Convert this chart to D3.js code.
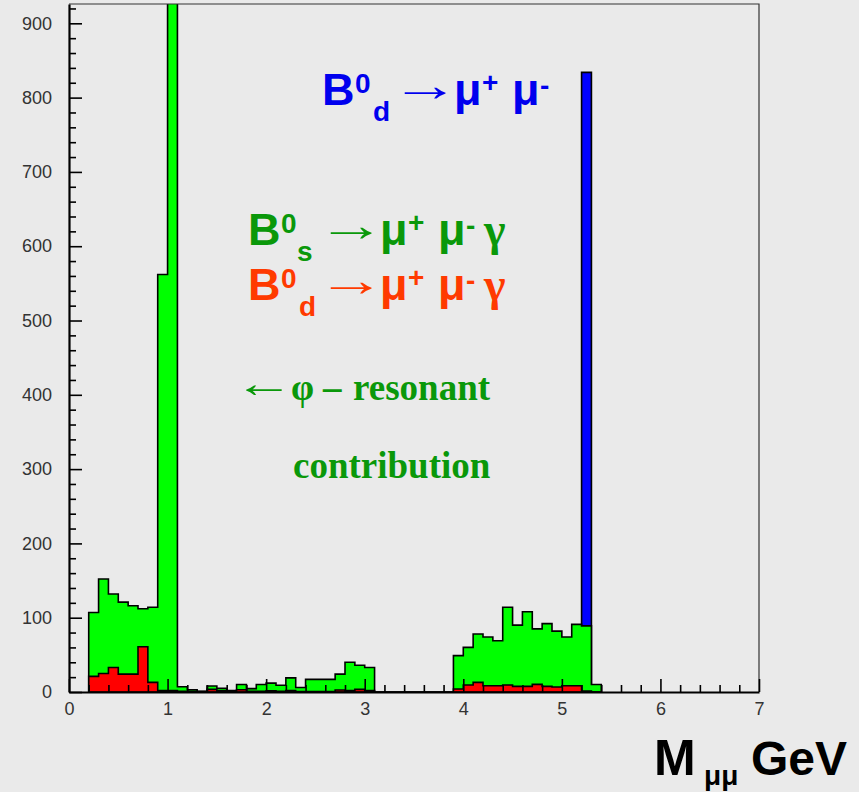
<!DOCTYPE html>
<html><head><meta charset="utf-8">
<script src="https://cdn.jsdelivr.net/npm/d3@7"></script>
<style>html,body{margin:0;padding:0;background:#eaeaea;} svg{display:block}</style>
</head><body>
<svg id="c" width="859" height="792"></svg>
<script>
// ---- data ----
const binLow = [0.2,0.3,0.4,0.5,0.6,0.7,0.8,0.9,1.0,1.1,1.2,1.3,1.4,1.5,1.6,1.7,1.8,1.9,2.0,2.1,2.2,2.3,2.4,2.5,2.6,2.7,2.8,2.9,3.0,3.1,3.2,3.3,3.4,3.5,3.6,3.7,3.8,3.9,4.0,4.1,4.2,4.3,4.4,4.5,4.6,4.7,4.8,4.9,5.0,5.1,5.2,5.3];
const binWidth = 0.1;
// B0s -> mu mu gamma (green, total)
const greenValues = [107,152,132,121,116,112,114,562,1400,7,3,1,8,5,2,10,4.5,10,12,9,19,6,17,17,17,24,40,36,33,0,0,0,0,0,0,0,0,49,60,78,74,69,114,90,108,85,92,82,74,91,89,10];
// B0d -> mu mu gamma (red)
const redValues = [21,25,33,24,24,61,13,2,2,1,1,0.5,3.6,2,1,3,1,1,1.5,1,2,0.5,0.5,0.5,0.5,2.7,2,3.6,2,0,0,0,0,0,0,0,0,4,9.4,12.9,8.5,8.5,9.4,7.6,7.6,10.3,7.6,6.7,8.5,8.5,1.3,0];
// B0d -> mu mu (blue)
const blueLow = [5.2];
const blueValues = [834];
const yMajorTicks = [0,100,200,300,400,500,600,700,800,900];
const yMinorTicks = [20,40,60,80,120,140,160,180,220,240,260,280,320,340,360,380,420,440,460,480,520,540,560,580,620,640,660,680,720,740,760,780,820,840,860,880,920];
const xMajorTicks = [0,1,2,3,4,5,6,7];
const xMinorTicks = [0.2,0.4,0.6,0.8,1.2,1.4,1.6,1.8,2.2,2.4,2.6,2.8,3.2,3.4,3.6,3.8,4.2,4.4,4.6,4.8,5.2,5.4,5.6,5.8,6.2,6.4,6.6,6.8];

// ---- layout ----
const W = 859, H = 792;
const L = 69, R = 759, T = 4, B = 692;
const x = d3.scaleLinear().domain([0, 7]).range([L, R]);
const y = d3.scaleLinear().domain([0, 926]).range([B, T]);
const svg = d3.select('#c');
svg.append('rect').attr('width', W).attr('height', H).attr('fill', '#eaeaea');
svg.append('clipPath').attr('id', 'clip').append('rect')
  .attr('x', L).attr('y', T).attr('width', R - L).attr('height', B - T);

function histPath(lows, vals, w) {
  let p = `M${x(lows[0])},${y(0)}`;
  lows.forEach((lo, i) => { p += `L${x(lo)},${y(vals[i])}L${x(lo + w)},${y(vals[i])}`; });
  p += `L${x(lows[lows.length - 1] + w)},${y(0)}Z`;
  return p;
}
const g = svg.append('g').attr('clip-path', 'url(#clip)');
g.append('path').attr('d', histPath(blueLow, blueValues, binWidth))
  .attr('fill', '#0000ff').attr('stroke', '#000').attr('stroke-width', 1.6);
g.append('path').attr('d', histPath(binLow, greenValues, binWidth))
  .attr('fill', '#00ff00').attr('stroke', '#000').attr('stroke-width', 1.6);
g.append('path').attr('d', histPath(binLow, redValues, binWidth))
  .attr('fill', '#ff0000').attr('stroke', '#000').attr('stroke-width', 1.6);

// frame
svg.append('path').attr('d', `M${L},${T}H${R}V${B}`).attr('fill', 'none').attr('stroke', '#333').attr('stroke-width', 1.2);

// axes
svg.append('g').attr('transform', `translate(${L},0)`)
  .call(d3.axisLeft(y).tickValues(yMajorTicks).tickSizeInner(-13).tickSizeOuter(0).tickPadding(17));
svg.append('g').attr('transform', `translate(${L},0)`)
  .call(d3.axisLeft(y).tickValues(yMinorTicks).tickSizeInner(-7).tickSizeOuter(0).tickFormat(''))
  .select('.domain').remove();
svg.append('g').attr('transform', `translate(0,${B})`)
  .call(d3.axisBottom(x).tickValues(xMajorTicks).tickSizeInner(-13).tickSizeOuter(0).tickPadding(10).tickFormat(d3.format('d')));
svg.append('g').attr('transform', `translate(0,${B})`)
  .call(d3.axisBottom(x).tickValues(xMinorTicks).tickSizeInner(-7).tickSizeOuter(0).tickFormat(''))
  .select('.domain').remove();
svg.selectAll('.tick line').attr('stroke', '#000').attr('stroke-width', 1.6);
svg.selectAll('.domain').attr('stroke', '#000').attr('stroke-width', 2.2);
svg.selectAll('.tick text').attr('font-family', 'Liberation Sans, Arial, sans-serif')
  .attr('font-size', 18).attr('fill', '#333');

// ---- annotations ----
const SANS = 'Liberation Sans, Arial, sans-serif';
const SERIF = 'Liberation Serif, Times New Roman, serif';
function txt(t, px, py, size, color, family, weight) {
  return svg.append('text').attr('x', px).attr('y', py).text(t)
    .attr('font-size', size).attr('fill', color).attr('font-family', family)
    .attr('font-weight', weight || 'bold');
}
// widen an arrow glyph horizontally, keeping its anchor point fixed
function widen(e, ax, sx) {
  e.attr('transform', `translate(${ax * (1 - sx)},0) scale(${sx},1)`);
}
function formula(x0, base, color, sub, gamma) {
  txt('B', x0, base, 45, color, SANS);
  txt('0', x0 + 33, base - 12, 28, color, SANS);
  txt(sub, x0 + (sub === 's' ? 49 : 51), base + 16, 28, color, SANS);
  widen(txt('\u2192', x0 + 69, base - 4, 46, color, SERIF, 'normal'), x0 + 69, 1.5);
  txt('\u03bc', x0 + 132, base, 45, color, SANS);
  txt('+', x0 + 160, base - 13, 28, color, SANS);
  txt('\u03bc', x0 + 190, base, 45, color, SANS);
  txt('-', x0 + 218, base - 10, 28, color, SANS);
  if (gamma) txt('\u03b3', x0 + 236, base, 46, color, SERIF);
}
formula(322, 105, '#0000ee', 'd', false);
formula(248, 245, '#0a980a', 's', true);
formula(248, 300, '#ff3a00', 'd', true);

const phiCol = '#0a980a';
widen(txt('\u2190', 234, 397, 40, phiCol, SERIF, 'normal'), 234, 1.5);
txt('\u03c6', 291, 400, 37, phiCol, SERIF);
txt('\u2013', 323, 400, 37, phiCol, SERIF);
txt('resonant', 353, 400, 37, phiCol, SERIF);
txt('contribution', 293, 478, 37, phiCol, SERIF);

// axis title
txt('M', 654, 775, 50, '#000', SANS);
txt('\u03bc\u03bc', 704, 785, 28, '#000', SANS);
txt('GeV', 751, 775, 48, '#000', SANS);
</script>
</body></html>
